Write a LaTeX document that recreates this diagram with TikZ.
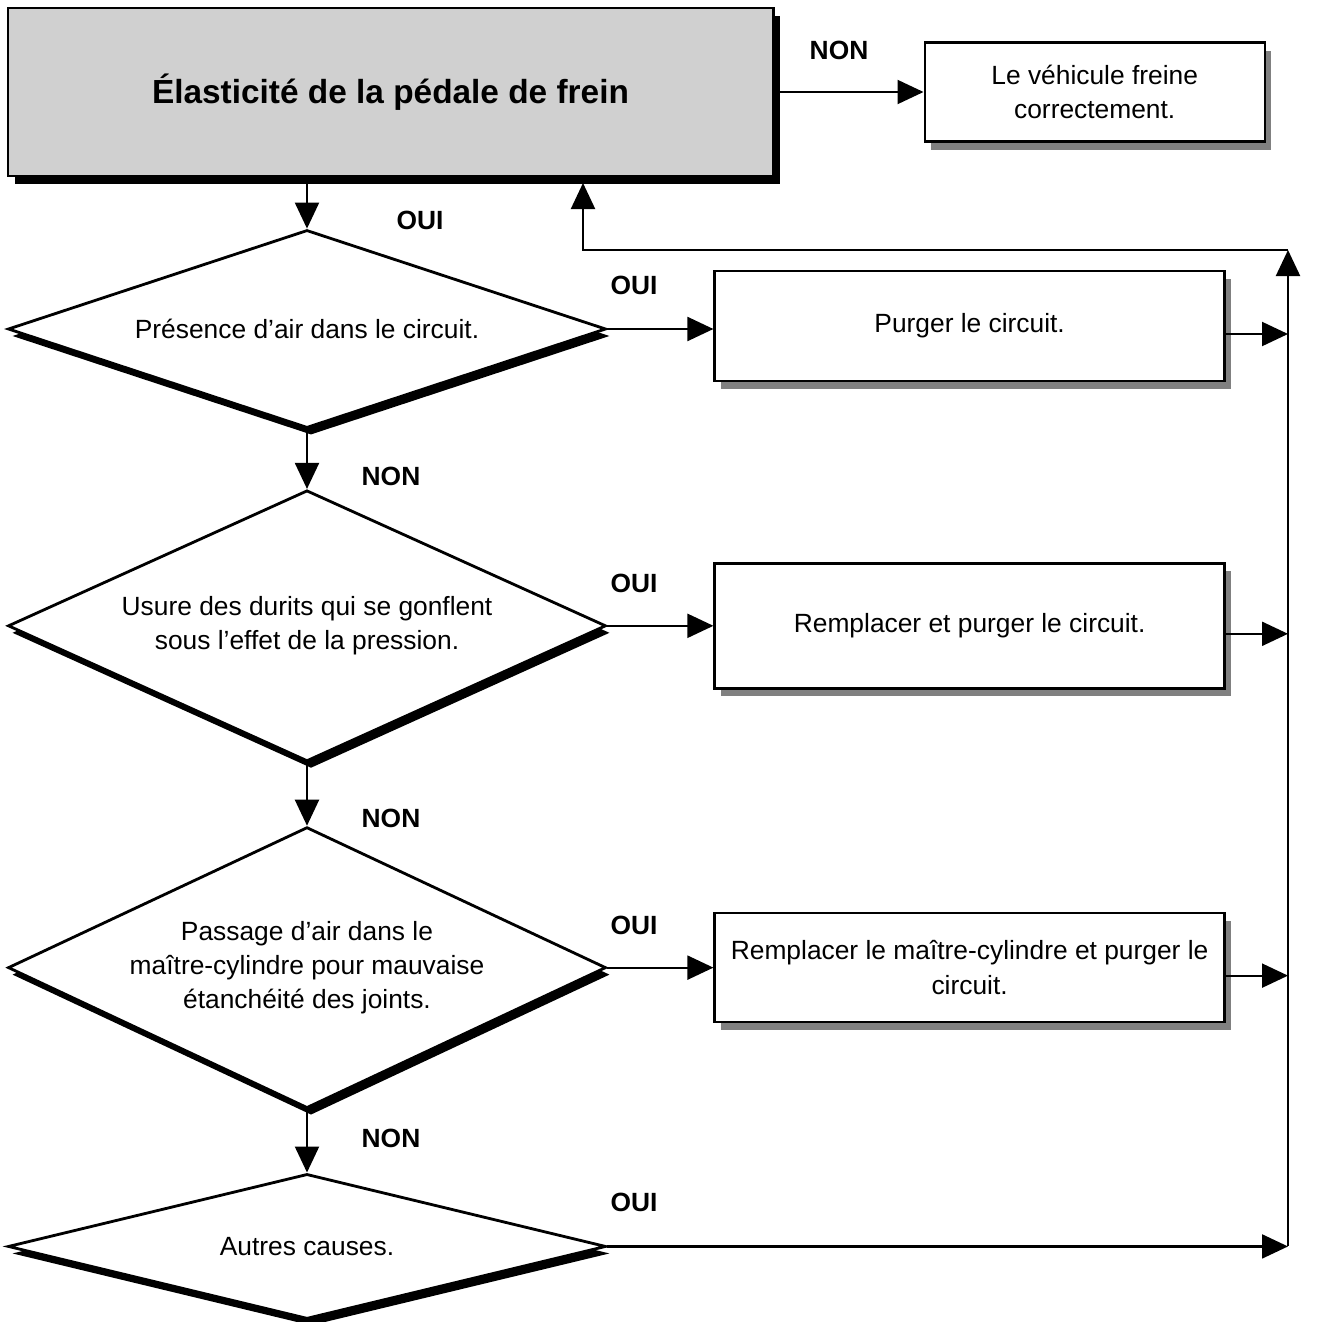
\documentclass[tikz,border=0pt]{standalone}
\usepackage{fontspec}
\setmainfont{Liberation Sans}
\usetikzlibrary{shapes.geometric,arrows.meta,shadows,positioning}

\definecolor{titregris}{RGB}{208,208,208}

\tikzset{
  titrebox/.style={rectangle, draw, line width=0.85pt, fill=titregris,
    minimum width=7.65cm, minimum height=1.68cm,
    font=\bfseries\fontsize{9.5}{11}\selectfont,
    drop shadow={shadow xshift=0.07cm, shadow yshift=-0.08cm, opacity=1, fill=black}},
  question/.style={diamond, draw, line width=0.8pt, fill=white,
    minimum width=5.98cm, inner sep=0pt, align=center,
    font=\fontsize{7.5}{9.8}\selectfont,
    drop shadow={shadow xshift=0.04cm, shadow yshift=-0.07cm, opacity=1, fill=black}},
  action/.style={rectangle, draw, line width=0.7pt, fill=white,
    minimum width=5.1cm, align=center,
    font=\fontsize{7.5}{9.8}\selectfont,
    drop shadow={shadow xshift=0.06cm, shadow yshift=-0.08cm, opacity=1, fill=black!50}},
  reponse/.style={font=\bfseries\fontsize{7.5}{9}\selectfont},
  lien/.style={line width=0.6pt, -{Triangle[length=0.26cm,width=0.24cm]}}
}

\begin{document}
\begin{tikzpicture}
\useasboundingbox (0,0) rectangle (13.42,-13.22);

% en-tete
\node[titrebox] (titre) at (3.905,-0.92) {Élasticité de la pédale de frein};
\node[action, minimum width=3.4cm, minimum height=0.99cm, right=1.49cm of titre] (freine)
  {Le véhicule freine\\ correctement.};

% les questions
\node[question, aspect=3.02, minimum height=1.98cm] (q1) at (3.07,-3.29)
  {Présence d’air dans le circuit.};
\node[question, aspect=2.2, minimum height=2.71cm, below=0.595cm of q1] (q2)
  {Usure des durits qui se gonflent\\ sous l’effet de la pression.};
\node[question, aspect=2.13, minimum height=2.81cm, below=0.63cm of q2] (q3)
  {Passage d’air dans le\\ maître-cylindre pour mauvaise\\ étanchéité des joints.};
\node[question, aspect=4.1, minimum height=1.45cm, below=0.63cm of q3] (q4)
  {Autres causes.};

% les remedes
\node[action, minimum height=1.1cm, right=1.06cm of q1, yshift=0.03cm] (a1) {Purger le circuit.};
\node[action, minimum height=1.25cm, right=1.06cm of q2] (a2) {Remplacer et purger le circuit.};
\node[action, minimum height=1.09cm, right=1.06cm of q3] (a3)
  {Remplacer le maître-cylindre et purger le\\ circuit.};

\coordinate (bus) at (12.88,-2.50);
\coordinate (retour) at (5.83,-2.50);
\coordinate (entree) at (5.83,-1.83);

% fleches
\draw[lien] (titre.east) -- (freine.west);
\draw[lien] (titre.south -| q1.north) -- (q1.north);
\draw[lien] (q1.south) -- (q2.north);
\draw[lien] (q2.south) -- (q3.north);
\draw[lien] (q3.south) -- (q4.north);
\draw[lien] (q1.east) -- (q1.east -| a1.west);
\draw[lien] (q2.east) -- (a2.west);
\draw[lien] (q3.east) -- (a3.west);
\draw[lien] (q4.east) -- (q4.east -| bus);
\foreach \a in {a1,a2,a3}
  \draw[lien] ([yshift=-0.08cm]\a.east) -- ([yshift=-0.08cm]\a.east -| bus);
\draw[lien] (q4.east -| bus) -- (bus);
\draw[lien] (bus) -- (retour) -- (entree);

% OUI / NON
\node[reponse] (non0) at (8.39,-0.50) {NON};
\node[reponse] (oui0) at (4.20,-2.20) {OUI};
\node[reponse] (oui1) at (6.34,-2.85) {OUI};
\node[reponse] (oui2) at (6.34,-5.83) {OUI};
\node[reponse] (oui3) at (6.34,-9.25) {OUI};
\node[reponse] (oui4) at (6.34,-12.02) {OUI};
\node[reponse] (non1) at (3.91,-4.76) {NON};
\node[reponse] (non2) at (3.91,-8.18) {NON};
\node[reponse] (non3) at (3.91,-11.38) {NON};
\end{tikzpicture}
\end{document}
